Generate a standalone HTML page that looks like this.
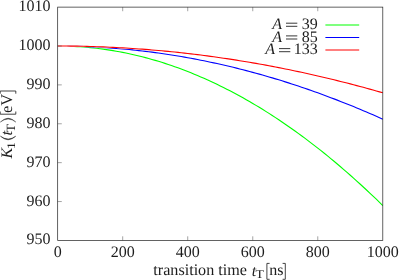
<!DOCTYPE html>
<html><head><meta charset="utf-8"><style>
html,body{margin:0;padding:0;background:#fff;}
svg{display:block}
text{font-family:"Liberation Serif",serif;font-size:16px;fill:#1c1c1c;text-rendering:geometricPrecision}
.s{font-size:11px}
.i{font-style:italic}
</style></head><body>
<svg width="399" height="280" viewBox="0 0 399 280">
<rect width="399" height="280" fill="#fff"/>
<g fill="none" stroke-width="1.1">
<path d="M67.43,46.15 L70.68,46.26 L73.94,46.40 L77.19,46.58 L80.44,46.79 L83.69,47.02 L86.94,47.30 L90.19,47.60 L93.44,47.93 L96.69,48.30 L99.95,48.70 L103.20,49.13 L106.45,49.59 L109.70,50.09 L112.95,50.61 L116.20,51.17 L119.45,51.76 L122.70,52.38 L125.96,53.04 L129.21,53.72 L132.46,54.44 L135.71,55.19 L138.96,55.97 L142.21,56.79 L145.46,57.63 L148.71,58.51 L151.96,59.42 L155.22,60.36 L158.47,61.33 L161.72,62.34 L164.97,63.38 L168.22,64.45 L171.47,65.55 L174.72,66.68 L177.97,67.84 L181.23,69.04 L184.48,70.27 L187.73,71.53 L190.98,72.82 L194.23,74.15 L197.48,75.50 L200.73,76.89 L203.98,78.31 L207.24,79.76 L210.49,81.25 L213.74,82.76 L216.99,84.31 L220.24,85.89 L223.49,87.50 L226.74,89.14 L229.99,90.82 L233.24,92.52 L236.50,94.26 L239.75,96.03 L243.00,97.84 L246.25,99.67 L249.50,101.54 L252.75,103.44 L256.00,105.37 L259.25,107.33 L262.51,109.32 L265.76,111.35 L269.01,113.41 L272.26,115.50 L275.51,117.62 L278.76,119.77 L282.01,121.96 L285.26,124.18 L288.52,126.43 L291.77,128.71 L295.02,131.02 L298.27,133.37 L301.52,135.74 L304.77,138.15 L308.02,140.59 L311.27,143.07 L314.52,145.57 L317.78,148.11 L321.03,150.68 L324.28,153.28 L327.53,155.91 L330.78,158.57 L334.03,161.27 L337.28,164.00 L340.53,166.76 L343.79,169.55 L347.04,172.37 L350.29,175.23 L353.54,178.12 L356.79,181.04 L360.04,183.99 L363.29,186.97 L366.54,189.99 L369.80,193.03 L373.05,196.11 L376.30,199.22 L379.55,202.37 L382.80,205.54" stroke="#00ff00"/>
<path d="M67.43,46.07 L70.68,46.12 L73.94,46.19 L77.19,46.27 L80.44,46.36 L83.69,46.47 L86.94,46.60 L90.19,46.74 L93.44,46.89 L96.69,47.06 L99.95,47.24 L103.20,47.44 L106.45,47.65 L109.70,47.88 L112.95,48.12 L116.20,48.37 L119.45,48.65 L122.70,48.93 L125.96,49.23 L129.21,49.55 L132.46,49.87 L135.71,50.22 L138.96,50.58 L142.21,50.95 L145.46,51.34 L148.71,51.74 L151.96,52.16 L155.22,52.59 L158.47,53.04 L161.72,53.50 L164.97,53.97 L168.22,54.46 L171.47,54.97 L174.72,55.49 L177.97,56.02 L181.23,56.57 L184.48,57.13 L187.73,57.71" stroke="#fff"/>
<path d="M67.43,46.07 L70.68,46.12 L73.94,46.19 L77.19,46.27 L80.44,46.36 L83.69,46.47 L86.94,46.60 L90.19,46.74 L93.44,46.89 L96.69,47.06 L99.95,47.24 L103.20,47.44 L106.45,47.65 L109.70,47.88 L112.95,48.12 L116.20,48.37 L119.45,48.65 L122.70,48.93 L125.96,49.23 L129.21,49.55 L132.46,49.87 L135.71,50.22 L138.96,50.58 L142.21,50.95 L145.46,51.34 L148.71,51.74 L151.96,52.16 L155.22,52.59 L158.47,53.04 L161.72,53.50 L164.97,53.97 L168.22,54.46 L171.47,54.97 L174.72,55.49 L177.97,56.02 L181.23,56.57 L184.48,57.13 L187.73,57.71 L190.98,58.30 L194.23,58.91 L197.48,59.53 L200.73,60.17 L203.98,60.82 L207.24,61.49 L210.49,62.17 L213.74,62.86 L216.99,63.57 L220.24,64.30 L223.49,65.04 L226.74,65.79 L229.99,66.56 L233.24,67.34 L236.50,68.14 L239.75,68.95 L243.00,69.78 L246.25,70.62 L249.50,71.48 L252.75,72.35 L256.00,73.23 L259.25,74.13 L262.51,75.05 L265.76,75.98 L269.01,76.92 L272.26,77.88 L275.51,78.85 L278.76,79.84 L282.01,80.84 L285.26,81.86 L288.52,82.89 L291.77,83.94 L295.02,85.00 L298.27,86.08 L301.52,87.17 L304.77,88.27 L308.02,89.39 L311.27,90.53 L314.52,91.67 L317.78,92.84 L321.03,94.02 L324.28,95.21 L327.53,96.42 L330.78,97.64 L334.03,98.87 L337.28,100.13 L340.53,101.39 L343.79,102.67 L347.04,103.97 L350.29,105.28 L353.54,106.60 L356.79,107.94 L360.04,109.30 L363.29,110.66 L366.54,112.05 L369.80,113.44 L373.05,114.86 L376.30,116.28 L379.55,117.73 L382.80,119.18" stroke="#0000ff"/>
<path d="M57.68,46.00 L60.93,46.01 L64.18,46.02 L67.43,46.05 L70.68,46.08 L73.94,46.12 L77.19,46.17 L80.44,46.23 L83.69,46.30 L86.94,46.38 L90.19,46.47 L93.44,46.57 L96.69,46.68 L99.95,46.79 L103.20,46.92 L106.45,47.06 L109.70,47.20 L112.95,47.36 L116.20,47.52 L119.45,47.69 L122.70,47.87 L125.96,48.07 L129.21,48.27 L132.46,48.48 L135.71,48.70 L138.96,48.93 L142.21,49.17 L145.46,49.41 L148.71,49.67 L151.96,49.94 L155.22,50.21 L158.47,50.50 L161.72,50.79 L164.97,51.10 L168.22,51.41 L171.47,51.73 L174.72,52.07 L177.97,52.41 L181.23,52.76 L184.48,53.12 L187.73,53.49 L190.98,53.87 L194.23,54.25 L197.48,54.65 L200.73,55.06 L203.98,55.48 L207.24,55.90 L210.49,56.34 L213.74,56.78 L216.99,57.23 L220.24,57.70" stroke="#fff"/>
<path d="M57.68,46.00 L60.93,46.01 L64.18,46.02 L67.43,46.05 L70.68,46.08 L73.94,46.12 L77.19,46.17 L80.44,46.23 L83.69,46.30 L86.94,46.38 L90.19,46.47 L93.44,46.57 L96.69,46.68 L99.95,46.79 L103.20,46.92 L106.45,47.06 L109.70,47.20 L112.95,47.36 L116.20,47.52 L119.45,47.69 L122.70,47.87 L125.96,48.07 L129.21,48.27 L132.46,48.48 L135.71,48.70 L138.96,48.93 L142.21,49.17 L145.46,49.41 L148.71,49.67 L151.96,49.94 L155.22,50.21 L158.47,50.50 L161.72,50.79 L164.97,51.10 L168.22,51.41 L171.47,51.73 L174.72,52.07 L177.97,52.41 L181.23,52.76 L184.48,53.12 L187.73,53.49 L190.98,53.87 L194.23,54.25 L197.48,54.65 L200.73,55.06 L203.98,55.48 L207.24,55.90 L210.49,56.34 L213.74,56.78 L216.99,57.23 L220.24,57.70" stroke="#fff"/>
<path d="M57.68,46.00 L60.93,46.01 L64.18,46.02 L67.43,46.05 L70.68,46.08 L73.94,46.12 L77.19,46.17 L80.44,46.23 L83.69,46.30 L86.94,46.38 L90.19,46.47 L93.44,46.57 L96.69,46.68 L99.95,46.79 L103.20,46.92 L106.45,47.06 L109.70,47.20 L112.95,47.36 L116.20,47.52 L119.45,47.69 L122.70,47.87 L125.96,48.07 L129.21,48.27 L132.46,48.48 L135.71,48.70 L138.96,48.93 L142.21,49.17 L145.46,49.41 L148.71,49.67 L151.96,49.94 L155.22,50.21 L158.47,50.50 L161.72,50.79 L164.97,51.10 L168.22,51.41 L171.47,51.73 L174.72,52.07 L177.97,52.41 L181.23,52.76 L184.48,53.12 L187.73,53.49 L190.98,53.87 L194.23,54.25 L197.48,54.65 L200.73,55.06 L203.98,55.48 L207.24,55.90 L210.49,56.34 L213.74,56.78 L216.99,57.23 L220.24,57.70 L223.49,58.17 L226.74,58.65 L229.99,59.14 L233.24,59.64 L236.50,60.15 L239.75,60.67 L243.00,61.20 L246.25,61.74 L249.50,62.29 L252.75,62.84 L256.00,63.41 L259.25,63.98 L262.51,64.57 L265.76,65.16 L269.01,65.77 L272.26,66.38 L275.51,67.00 L278.76,67.63 L282.01,68.27 L285.26,68.92 L288.52,69.58 L291.77,70.25 L295.02,70.93 L298.27,71.62 L301.52,72.32 L304.77,73.02 L308.02,73.74 L311.27,74.46 L314.52,75.20 L317.78,75.94 L321.03,76.69 L324.28,77.46 L327.53,78.23 L330.78,79.01 L334.03,79.80 L337.28,80.60 L340.53,81.41 L343.79,82.23 L347.04,83.06 L350.29,83.89 L353.54,84.74 L356.79,85.60 L360.04,86.46 L363.29,87.34 L366.54,88.22 L369.80,89.11 L373.05,90.02 L376.30,90.93 L379.55,91.85 L382.80,92.78" stroke="#ff0000"/>
</g>
<g fill="none" stroke="#333" stroke-width="0.45">
<path d="M122.70,240.42 V236.32 M122.70,7.12 V11.219999999999999"/><path d="M187.73,240.42 V236.32 M187.73,7.12 V11.219999999999999"/><path d="M252.75,240.42 V236.32 M252.75,7.12 V11.219999999999999"/><path d="M317.78,240.42 V236.32 M317.78,7.12 V11.219999999999999"/><path d="M57.68,201.54 H61.78"/><path d="M57.68,162.65 H61.78"/><path d="M57.68,123.77 H61.78"/><path d="M57.68,84.89 H61.78"/><path d="M57.68,46.00 H61.78"/>
</g>
<rect x="57.68" y="7.12" width="325.12" height="233.30" fill="none" stroke="#262626" stroke-width="0.72"/>
<path d="M325.4,25.00 H359.2" stroke="#00ff00" stroke-width="1.15" fill="none"/><path d="M325.4,37.50 H359.2" stroke="#0000ff" stroke-width="1.15" fill="none"/><path d="M325.4,50.00 H359.2" stroke="#ff0000" stroke-width="1.15" fill="none"/>
<g id="alltext" style="filter:grayscale(1)">
<text x="57.68" y="257.2" text-anchor="middle">0</text><text x="122.70" y="257.2" text-anchor="middle">200</text><text x="187.73" y="257.2" text-anchor="middle">400</text><text x="252.75" y="257.2" text-anchor="middle">600</text><text x="317.78" y="257.2" text-anchor="middle">800</text><text x="382.80" y="257.2" text-anchor="middle">1000</text>
<text x="50.6" y="244.42" text-anchor="end">950</text><text x="50.6" y="205.54" text-anchor="end">960</text><text x="50.6" y="166.65" text-anchor="end">970</text><text x="50.6" y="127.77" text-anchor="end">980</text><text x="50.6" y="88.89" text-anchor="end">990</text><text x="50.6" y="50.00" text-anchor="end">1000</text><text x="50.6" y="11.12" text-anchor="end">1010</text>
<text x="317.8" y="29.0" text-anchor="end">39</text><path d="M286.0,23.2 h11.3 M286.0,26.3 h11.3" stroke="#222" stroke-width="0.9" fill="none"/><text x="282.00" y="29.0" text-anchor="end" font-style="italic">A</text><text x="317.8" y="41.7" text-anchor="end">85</text><path d="M286.0,35.900000000000006 h11.3 M286.0,39.0 h11.3" stroke="#222" stroke-width="0.9" fill="none"/><text x="282.00" y="41.7" text-anchor="end" font-style="italic">A</text><text x="317.8" y="54.4" text-anchor="end">133</text><path d="M279.0,48.6 h11.3 M279.0,51.699999999999996 h11.3" stroke="#222" stroke-width="0.9" fill="none"/><text x="275.00" y="54.4" text-anchor="end" font-style="italic">A</text>
<g id="xlab">
<text x="153.3" y="275.3" style="font-size:16.15px">transition time</text>
<text x="251.7" y="275.7" class="i">t</text>
<text transform="translate(255.5,277.8) scale(1.15,1)" x="0" y="0" style="font-size:12px">T</text>
<path d="M269.6,263.4 H266.9 V279.3 H269.6 M282.6,263.4 H285.3 V279.3 H282.6" fill="none" stroke="#222" stroke-width="0.85"/>
<text x="269.2" y="275.3">ns</text>
</g>
<g id="ylab" transform="translate(12.1,157.5) rotate(-90)">
<text x="-0.9" y="0" class="i">K</text>
<text transform="translate(8.2,2.9) scale(1.25,1)" x="0" y="0" style="font-size:11.5px">1</text>
<path d="M21.4,-11.8 Q13.9,-3.95 21.4,3.8 Q15.8,-3.95 21.4,-11.8 Z" fill="#222" stroke="#222" stroke-width="0.35"/>
<text x="22.0" y="0.2" class="i" style="font-size:16.5px">t</text>
<text transform="translate(24.9,2.9) scale(1.15,1)" x="0" y="0" style="font-size:12.6px">T</text>
<path d="M35.4,-11.8 Q43.2,-3.95 35.4,3.8 Q41.4,-3.95 35.4,-11.8 Z" fill="#222" stroke="#222" stroke-width="0.35"/>
<path d="M46,-11.9 H43.3 V3.7 H46 M63.8,-11.9 H66.5 V3.7 H63.8" fill="none" stroke="#222" stroke-width="0.85"/>
<text x="44.5" y="0" style="font-size:16.4px">eV</text>
</g>
</g>
</svg>
</body></html>
